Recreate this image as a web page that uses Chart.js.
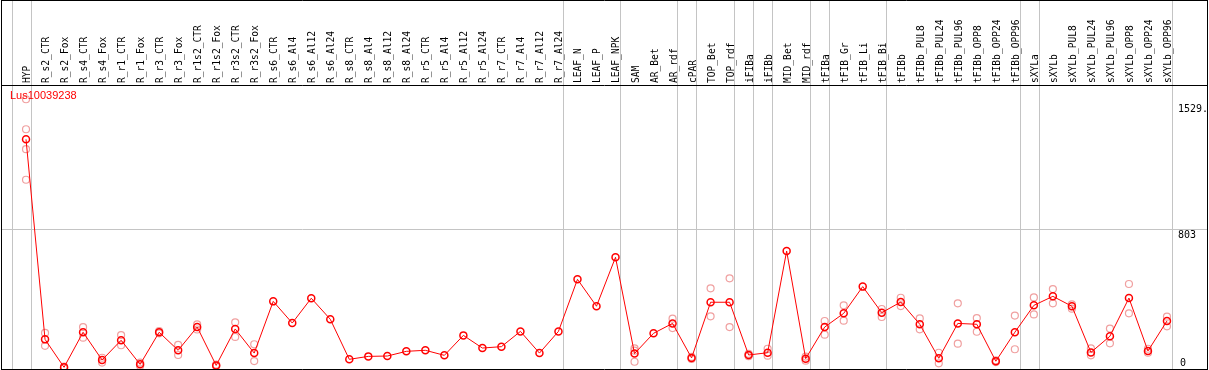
<!DOCTYPE html>
<html>
<head>
<meta charset="utf-8">
<script src="https://cdn.jsdelivr.net/npm/chart.js@4.4.1/dist/chart.umd.min.js"></script>
<style>
  html, body { margin: 0; padding: 0; background: #fff; }
  #wrap { width: 1209px; height: 370px; }
</style>
</head>
<body>
<div id="wrap"><canvas id="chart" width="1209" height="370"></canvas></div>
<script>
// expression profile chart

const geneName = "Lus10039238";

const categories = [
    "HYP", "R_s2_CTR", "R_s2_Fox", "R_s4_CTR", "R_s4_Fox", "R_r1_CTR", "R_r1_Fox",
    "R_r3_CTR", "R_r3_Fox", "R_r1s2_CTR", "R_r1s2_Fox", "R_r3s2_CTR", "R_r3s2_Fox",
    "R_s6_CTR", "R_s6_Al4", "R_s6_Al12", "R_s6_Al24", "R_s8_CTR", "R_s8_Al4", "R_s8_Al12",
    "R_s8_Al24", "R_r5_CTR", "R_r5_Al4", "R_r5_Al12", "R_r5_Al24", "R_r7_CTR", "R_r7_Al4",
    "R_r7_Al12", "R_r7_Al24", "LEAF_N", "LEAF_P", "LEAF_NPK", "SAM", "AR_Bet", "AR_rdf",
    "cPAR", "TOP_Bet", "TOP_rdf", "iFIBa", "iFIBb", "MID_Bet", "MID_rdf", "tFIBa",
    "tFIB_Gr", "tFIB_Li", "tFIB_Bi", "tFIBb", "tFIBb_PUL8", "tFIBb_PUL24", "tFIBb_PUL96",
    "tFIBb_OPP8", "tFIBb_OPP24", "tFIBb_OPP96", "sXYLa", "sXYLb", "sXYLb_PUL8",
    "sXYLb_PUL24", "sXYLb_PUL96", "sXYLb_OPP8", "sXYLb_OPP24", "sXYLb_OPP96"
];

// mean expression (red line)
const meanValues = [
    1318, 165, 4, 206, 46, 160, 21, 206, 102, 236, 15, 225, 86,
    384, 259, 402, 281, 50, 67, 69, 96, 102, 73, 188, 115, 123, 211, 86, 211,
    511, 356, 638, 83, 200, 257, 58, 379, 379, 75, 88, 674, 54, 236,
    315, 469, 319, 380, 252, 56, 257, 252, 39, 206, 361, 413, 356,
    90, 183, 403, 98, 271
];

// replicates (light circles), null = none shown
const repA = [
    1549, 202, 8, 236, 59, 190, 31, 212, 133, 252, 19, 263, 137,
    null, null, null, null, null, null, null, null, null, null, null, null, null, null, null, null,
    null, null, null, 100, null, 284, 64, 459, 517, 82, 111, null, 66, 271,
    361, null, 340, 405, 286, 88, 373, 288, 44, 302, 407, 455, 367,
    113, 227, 484, 111, 296
];
const repB = [
    1085, 128, 0, 175, 31, 131, 12, 200, 75, 222, 11, 179, 40,
    null, null, null, null, null, null, null, null, null, null, null, null, null, null, null, null,
    null, null, null, 36, null, 230, 52, 298, 236, 68, 71, null, 42, 192,
    273, null, 294, 357, 223, 27, 140, 209, 34, 108, 309, 373, 342,
    73, 142, 315, 88, 240
];
// extra replicates, only HYP and SAM have them
const repC = { 0: 1376, 32: 113 };
const repD = { 0: 1261 };

// last index of each sample group -> grey separator line
const groupEnds = [-1, 0, 28, 31, 34, 35, 37, 38, 39, 41, 42, 45, 52, 53, 60];

const yTickValues = [0, 803, 1529];
const yTickLabels = ["0", "803", "1529."];
const yGridValues = [803];

const xMin = -1.316, xMax = 62.105;
const yMin = -5.76, yMax = 1631;

function toPoints(arr) {
    const pts = [];
    arr.forEach((v, i) => { if (v !== null) pts.push({ x: i, y: v }); });
    return pts;
}

const repPoints = toPoints(repA)
    .concat(toPoints(repB))
    .concat(Object.keys(repC).map(k => ({ x: Number(k), y: repC[k] })))
    .concat(Object.keys(repD).map(k => ({ x: Number(k), y: repD[k] })));

const meanPoints = toPoints(meanValues);

const framePlugin = {
    id: "frame",
    beforeDatasetsDraw(chart) {
        const { ctx, chartArea, scales: { x, y } } = chart;
        ctx.save();
        ctx.strokeStyle = "#c4c4c4";
        ctx.lineWidth = 1;
        ctx.beginPath();
        yGridValues.forEach(v => {
            const py = Math.round(y.getPixelForValue(v)) + 0.5;
            ctx.moveTo(chartArea.left, py);
            ctx.lineTo(chartArea.right, py);
        });
        groupEnds.forEach(i => {
            const px = Math.round(x.getPixelForValue(i + 0.25)) + 0.5;
            ctx.moveTo(px, 0);
            ctx.lineTo(px, chartArea.bottom);
        });
        ctx.stroke();
        ctx.restore();
    },
    afterDraw(chart) {
        const { ctx, chartArea, scales: { y } } = chart;
        ctx.save();
        // black frame
        ctx.strokeStyle = "#000";
        ctx.lineWidth = 1;
        ctx.beginPath();
        ctx.moveTo(chartArea.left + 0.5, 0);
        ctx.lineTo(chartArea.left + 0.5, chartArea.bottom + 0.5);
        ctx.moveTo(chartArea.right + 0.5, 0);
        ctx.lineTo(chartArea.right + 0.5, chartArea.bottom + 0.5);
        ctx.moveTo(chartArea.left, 0.5);
        ctx.lineTo(chartArea.right + 1, 0.5);
        ctx.moveTo(chartArea.left, chartArea.top + 0.5);
        ctx.lineTo(chartArea.right + 1, chartArea.top + 0.5);
        ctx.moveTo(chartArea.left, chartArea.bottom + 0.5);
        ctx.lineTo(chartArea.right + 1, chartArea.bottom + 0.5);
        ctx.stroke();

        // gene name
        ctx.fillStyle = "#ff0000";
        ctx.font = "11px 'Liberation Sans'";
        ctx.textBaseline = "top";
        ctx.textAlign = "left";
        ctx.fillText(geneName, chartArea.left + 9, chartArea.top + 5);

        // value labels on the right
        ctx.fillStyle = "#000";
        ctx.font = "10px 'DejaVu Sans Mono'";
        yTickValues.forEach((v, k) => {
            const py = y.getPixelForValue(v);
            if (v === 0) {
                ctx.textBaseline = "alphabetic";
                ctx.fillText(yTickLabels[k], chartArea.right - 27, py - 2);
            } else {
                ctx.textBaseline = "top";
                ctx.fillText(yTickLabels[k], chartArea.right - 29, py + 2);
            }
        });
        ctx.restore();
    }
};

const ctx = document.getElementById("chart").getContext("2d");

new Chart(ctx, {
    type: "line",
    data: {
        datasets: [
            {
                label: "replicates",
                type: "scatter",
                data: repPoints,
                showLine: false,
                pointRadius: 3.5,
                pointBorderWidth: 1.2,
                pointBorderColor: "#f0a0a0",
                pointBackgroundColor: "rgba(0,0,0,0)",
                order: 2
            },
            {
                label: "mean",
                data: meanPoints,
                borderColor: "#ff0000",
                borderWidth: 1,
                tension: 0,
                pointRadius: 3.5,
                pointBorderWidth: 1.5,
                pointBorderColor: "#ff0000",
                pointBackgroundColor: "rgba(0,0,0,0)",
                order: 1
            }
        ]
    },
    options: {
        responsive: false,
        animation: false,
        events: [],
        layout: { autoPadding: false, padding: { left: 1, right: 2, top: 0, bottom: 1 } },
        plugins: {
            legend: { display: false },
            tooltip: { enabled: false }
        },
        scales: {
            x: {
                type: "linear",
                position: "top",
                min: xMin,
                max: xMax,
                afterBuildTicks: axis => {
                    axis.ticks = categories.map((c, i) => ({ value: i }));
                },
                afterFit: axis => {
                    axis.height = 85;
                    axis.paddingLeft = 0;
                    axis.paddingRight = 0;
                },
                grid: { display: false, drawTicks: false },
                border: { display: false },
                ticks: {
                    autoSkip: false,
                    minRotation: 90,
                    maxRotation: 90,
                    padding: 2,
                    labelOffset: 13,
                    color: "#000",
                    font: { family: "DejaVu Sans Mono", size: 9.6 },
                    callback: v => categories[v] ?? ""
                }
            },
            y: {
                display: false,
                min: yMin,
                max: yMax
            }
        }
    },
    plugins: [framePlugin]
});
</script>
</body>
</html>
